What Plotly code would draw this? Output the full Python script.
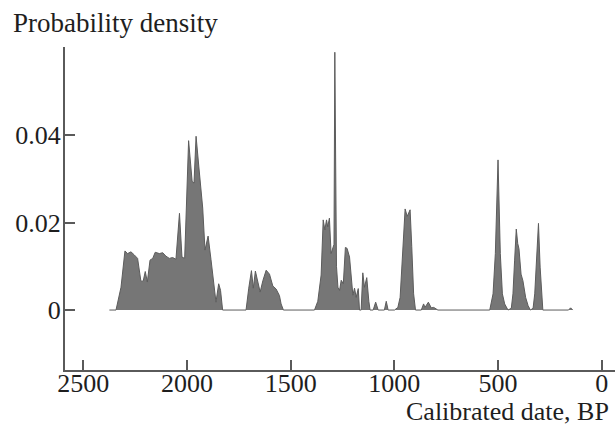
import plotly.graph_objects as go

# Calibrated date (years BP) and probability density
years = [2374, 2342, 2318, 2299, 2286, 2270, 2254, 2238, 2222, 2211, 2201, 2191, 2178, 2165,
         2153, 2133, 2117, 2101, 2085, 2069, 2053, 2036, 2024, 2011, 1992, 1975, 1966, 1956,
         1943, 1924, 1913, 1898, 1884, 1873, 1860, 1847, 1838, 1828,
         1715, 1702, 1689, 1680, 1670, 1658, 1647, 1634, 1618, 1602, 1586, 1570, 1554, 1546, 1535,
         1385, 1369, 1353, 1343, 1335, 1327, 1321, 1313, 1305, 1297, 1291, 1287, 1283, 1279,
         1272, 1264, 1256, 1246, 1236, 1228, 1216, 1208, 1200, 1192, 1184, 1174, 1168,
         1160, 1152, 1144, 1133, 1123, 1117, 1102, 1090, 1078, 1048, 1039, 1030,
         999, 983, 972, 959, 948, 938, 924, 916, 907, 898,
         870, 859, 852, 836, 822, 810, 800, 790,
         540, 524, 513, 500, 489, 479, 468, 452, 436, 428, 420, 412, 405, 399, 389, 380,
         367, 355, 344, 331, 323, 315, 305, 297, 289, 284, 160, 150, 140]
density = [0, 0, 0.0052, 0.0135, 0.0129, 0.0133, 0.0126, 0.0118, 0.0066, 0.0066, 0.0088, 0.0064, 0.0114, 0.0118,
           0.0132, 0.0129, 0.0131, 0.0123, 0.0118, 0.0120, 0.0116, 0.0221, 0.0121, 0.0118, 0.0387, 0.0294, 0.0290, 0.0397,
           0.0329, 0.0233, 0.0137, 0.0169, 0.0115, 0.0073, 0.0018, 0.0060, 0.0045, 0,
           0, 0.0050, 0.0090, 0.0050, 0.0089, 0.0064, 0.0041, 0.0067, 0.0091, 0.0082, 0.0055, 0.0048, 0.0033, 0.0014, 0,
           0, 0.0020, 0.0080, 0.0206, 0.0183, 0.0206, 0.0190, 0.0210, 0.0129, 0.0145, 0.0150, 0.0589, 0.0160, 0.0100,
           0.0052, 0.0045, 0.0068, 0.0060, 0.0143, 0.0141, 0.0121, 0.0068, 0.0034, 0.0050, 0.0029, 0.0049, 0,
           0, 0.0085, 0.0052, 0.0074, 0.0020, 0, 0, 0.0018, 0, 0, 0.0020, 0,
           0, 0.0006, 0.0029, 0.0129, 0.0231, 0.0214, 0.0229, 0.0145, 0.0037, 0,
           0, 0.0014, 0.0006, 0.0018, 0.0005, 0.0006, 0.0003, 0,
           0, 0.0037, 0.0129, 0.0343, 0.0129, 0.0037, 0.0014, 0, 0.0004, 0.0037, 0.0114, 0.0185, 0.0152, 0.0140, 0.0082, 0.0067,
           0.0029, 0.0010, 0, 0.0004, 0.0037, 0.0114, 0.0198, 0.0098, 0.0020, 0, 0, 0.0005, 0]

x_ticks = [2500, 2000, 1500, 1000, 500, 0]
x_tick_labels = ["2500", "2000", "1500", "1000", "500", "0"]
y_ticks = [0, 0.02, 0.04]
y_tick_labels = ["0", "0.02", "0.04"]

FONT = "Liberation Serif"
TXT = "#1e1e1e"
AX = "#5a5a5a"

fig = go.Figure()
fig.add_trace(go.Scatter(
    x=years, y=density, mode="lines", fill="tozeroy",
    fillcolor="#767676", line=dict(color="#5c5c5c", width=1),
    hoverinfo="skip", showlegend=False,
))

fig.update_layout(
    width=615, height=426,
    margin=dict(l=65, r=0, t=47, b=56),
    paper_bgcolor="white", plot_bgcolor="white",
    font=dict(family=FONT, size=26, color=TXT),
    xaxis=dict(
        range=[2588, -64], tickvals=x_ticks, ticktext=x_tick_labels,
        ticks="inside", ticklen=10, tickwidth=1.5, tickcolor=AX,
        showline=True, linecolor=AX, linewidth=2, showgrid=False, zeroline=False,
        tickfont=dict(family=FONT, size=26, color=TXT), ticklabelstandoff=-11,
    ),
    yaxis=dict(
        range=[-0.0137, 0.0601], tickvals=y_ticks, ticktext=y_tick_labels,
        ticks="inside", ticklen=10, tickwidth=1.5, tickcolor=AX,
        showline=True, linecolor=AX, linewidth=2, showgrid=False, zeroline=False,
        tickfont=dict(family=FONT, size=26, color=TXT), ticklabelstandoff=-3,
    ),
    annotations=[
        dict(text="Probability density", xref="paper", yref="paper", x=0, y=1,
             xanchor="left", yanchor="middle", xshift=-54, yshift=24, showarrow=False,
             font=dict(family=FONT, size=27, color=TXT)),
        dict(text="Calibrated date, BP", xref="paper", yref="paper", x=1, y=0,
             xanchor="right", yanchor="middle", xshift=-4, yshift=-41, showarrow=False,
             font=dict(family=FONT, size=26, color=TXT)),
    ],
)

fig.write_html("out.html")
